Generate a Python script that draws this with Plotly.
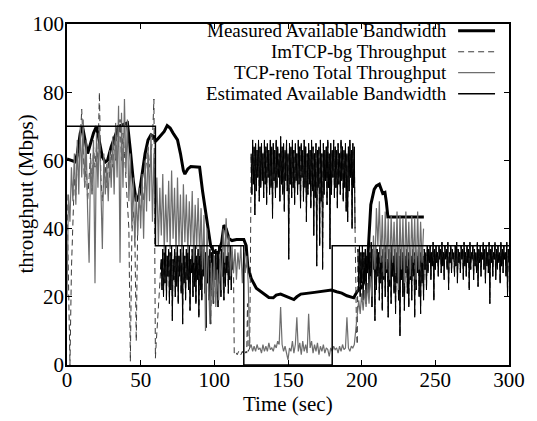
import numpy as np
import plotly.graph_objects as go

# ---------------- data ----------------
# Measured Available Bandwidth (thick line)
meas_t = [0, 3, 5.5, 7, 9, 10.5, 12, 14, 16, 18,
          20, 22, 24, 26, 27.5, 30, 33, 35, 38, 41,
          43, 45, 47, 49, 51, 53, 55, 57, 59, 60,
          62, 64, 66, 68, 70, 72, 75, 77, 79, 80,
          82, 84, 88, 90, 92, 94, 96, 97.5, 100, 103,
          105, 106.5, 108, 110, 112, 115, 120, 121.6, 122.7, 125,
          128.5, 134.3, 137, 140, 142, 145, 149.4, 152, 154, 156,
          158.7, 168, 175, 179.5, 183, 186.5, 190, 194.6, 197, 200.4,
          202, 204, 206.2, 208.5, 210, 212, 214.3, 215.8, 216.7, 217.8,
          242.2]
meas_v = [60.4, 60, 59.6, 62, 68, 70, 66, 62, 65, 68,
          70, 66, 61, 59.5, 60, 64, 68, 70, 70.5, 71,
          63, 54, 48, 50, 56, 62, 66, 67.5, 67, 65.5,
          66.5, 67.5, 68.5, 70.2, 69.5, 68, 66, 62, 57, 56,
          57.5, 58.2, 58.2, 58, 51, 45, 38, 35, 33, 33,
          36, 41, 40, 37, 36.5, 36.8, 36.8, 35, 29, 25.4,
          22.5, 20.6, 19.8, 19.7, 20.5, 20.8, 20, 19.5, 19.2, 20,
          20.8, 21.3, 21.7, 22, 21.5, 21.1, 20.3, 19.7, 21.6, 23,
          25, 30, 47, 51.5, 52.5, 53, 50.3, 50.6, 48, 43.4,
          43.4]

# ImTCP-bg throughput: 1 s samples from t=0 to 59
imtcp_early = [50, 22, 0, 28, 45, 55, 50, 60, 62, 66,
               75, 60, 52, 60, 48, 55, 62, 50, 64, 58,
               64, 60, 80, 55, 48, 54, 58, 52, 60, 55,
               62, 58, 66, 60, 70, 64, 72, 60, 68, 62,
               55, 48, 40, 1, 38, 45, 40, 7, 42, 48,
               45, 52, 48, 56, 60, 64, 58, 62, 66, 78]
# ImTCP-bg throughput: 0.5 s samples from t=60 to 300
imtcp_main = [2, 6, 10, 14, 18, 22, 25, 28, 31, 22,
              34, 20, 33, 24, 35, 19, 32, 26, 34, 18,
              33, 22, 35, 13, 31, 25, 34, 20, 33, 23,
              35, 18, 32, 26, 34, 21, 33, 12, 35, 24,
              32, 19, 34, 25, 33, 22, 35, 16, 31, 27,
              34, 20, 33, 23, 35, 18, 32, 25, 34, 14,
              33, 22, 35, 19, 31, 26, 34, 21, 33, 11,
              35, 24, 32, 19, 34, 12, 33, 22, 35, 18,
              32, 25, 34, 21, 33, 17, 35, 24, 31, 20,
              34, 26, 33, 19, 35, 23, 32, 27, 34, 21,
              33, 25, 35, 22, 32, 28, 30, 3.5, 3.5, 4,
              3.5, 3, 3.5, 4, 3.5, 3.5, 3, 3.5, 4, 3.5,
              3.5, 3, 3.5, 4, 3.5, 18, 4, 4.5, 5, 30,
              62, 50, 66, 53, 64, 44, 65, 51, 63, 55,
              66, 48, 64, 52, 65, 54, 62, 49, 66, 53,
              64, 47, 65, 55, 63, 50, 66, 52, 64, 43,
              65, 54, 63, 49, 66, 52, 64, 55, 62, 48,
              67, 53, 64, 50, 65, 45, 63, 54, 66, 51,
              62, 31, 65, 53, 64, 49, 66, 52, 63, 47,
              65, 54, 62, 50, 66, 53, 64, 46, 65, 55,
              63, 48, 66, 52, 64, 42, 62, 50, 65, 53,
              63, 46, 66, 51, 64, 38, 62, 49, 65, 29,
              63, 52, 64, 35, 66, 48, 62, 28, 65, 50,
              63, 54, 64, 47, 66, 52, 62, 34, 65, 50,
              63, 55, 66, 49, 64, 52, 63, 46, 65, 53,
              62, 50, 66, 54, 64, 48, 63, 52, 65, 45,
              62, 42, 64, 51, 66, 55, 63, 40, 65, 52,
              64, 40, 20, 10, 6, 34, 22, 35, 20, 33,
              24, 35, 19, 33, 26, 34, 18, 32, 27, 35,
              21, 33, 25, 36, 17, 34, 28, 33, 13, 35,
              22, 34, 26, 33, 19, 35, 24, 32, 16, 34,
              25, 33, 20, 35, 27, 31, 14, 34, 23, 33,
              18, 35, 26, 32, 21, 34, 15, 33, 24, 35,
              19, 32, 8.5, 34, 25, 33, 20, 35, 16, 32,
              27, 34, 21, 33, 17, 35, 25, 32, 19, 34,
              26, 33, 14, 35, 22, 32, 27, 34, 20, 33,
              15, 35, 24, 32, 19, 34, 28, 33, 22, 35,
              27, 34, 30, 35, 25, 33, 29, 36, 19, 34,
              28, 35, 30, 33, 26, 35, 31, 34, 27, 36,
              29, 33, 25, 35, 31, 34, 28, 36, 22, 33,
              30, 35, 27, 34, 31, 33, 26, 35, 29, 36,
              24, 34, 30, 33, 27, 35, 31, 34, 25, 36,
              29, 33, 26, 35, 30, 34, 22, 36, 28, 33,
              31, 35, 25, 34, 29, 33, 27, 36, 23, 34,
              30, 35, 26, 33, 31, 36, 28, 34, 24, 35,
              29, 33, 27, 36, 18, 34, 30, 35, 26, 33,
              31, 36, 25, 34, 28, 35, 30, 33, 24, 36,
              29, 34, 27, 35, 31, 33, 26, 36, 20, 34,
              30]

# TCP-reno total throughput: 1 s samples from t=0 to 242
reno = [20, 50, 42, 58, 48, 62, 47, 66, 50, 70,
        55, 72, 52, 66, 45, 30, 60, 50, 66, 24,
        68, 52, 70, 48, 34, 62, 50, 59, 48, 63,
        52, 67, 50, 71, 55, 76, 30, 74, 52, 78,
        56, 72, 48, 62, 40, 55, 35, 50, 38, 52,
        40, 56, 37, 60, 45, 64, 48, 68, 42, 62,
        40, 55, 35, 52, 38, 56, 33, 50, 36, 54,
        34, 57, 37, 52, 32, 55, 35, 50, 30, 53,
        36, 50, 33, 48, 35, 51, 30, 47, 34, 49,
        32, 46, 28, 44, 10, 40, 22, 12, 30, 18,
        32, 17, 28, 19, 33, 22, 40, 30, 43, 32,
        38, 26, 35, 27, 34, 25, 33, 28, 35, 24,
        33, 27, 32, 24, 5, 6, 4, 5.5, 4, 6,
        4.5, 5, 3.5, 6, 4, 5.5, 4, 6.5, 4.5, 5,
        4, 6, 5, 7, 6, 17, 6, 4, 5.5, 3,
        1.5, 5, 4, 7, 3.5, 6, 14, 4, 6.5, 3,
        7, 4, 6, 3.5, 15, 5, 7, 3.5, 6, 4,
        6.5, 3, 5.5, 4, 6, 3.5, 5, 4.5, 2.5, 5,
        4, 5.5, 4.5, 5, 3.5, 5.5, 4, 6, 4.5, 5,
        14, 5, 4, 5.5, 5, 6, 10, 16, 19, 15,
        21, 16, 22, 17, 24, 18, 26, 20, 38, 28,
        46, 35, 48, 30, 44, 26, 45, 28, 43, 25,
        44, 30, 42, 27, 45, 22, 44, 28, 43, 24,
        45, 29, 42, 26, 44, 30, 43, 25, 45, 28,
        42, 30, 40]

# Estimated available bandwidth (step)
est_t = [0, 60, 60, 120, 120, 180, 180, 300]
est_v = [70, 70, 35, 35, 0, 0, 35, 35]

x_ticks = [0, 50, 100, 150, 200, 250, 300]
y_ticks = [0, 20, 40, 60, 80, 100]

legend_names = ["Measured Available Bandwidth", "ImTCP-bg Throughput",
                "TCP-reno Total Throughput", "Estimated Available Bandwidth"]

# ---------------- build ----------------
imtcp_t = np.concatenate([0 + 1.0 * np.arange(len(imtcp_early)),
                          60 + 0.5 * np.arange(len(imtcp_main))])
imtcp_v = np.array(imtcp_early + imtcp_main, dtype=float)
reno_t = 1.0 * np.arange(len(reno))

# dense parts of the dashed curve render as solid ink (as in the original)
dense_windows = [(63.5, 113.0), (125.0, 195.5), (197.5, 300.0)]
mask = np.zeros(len(imtcp_t), dtype=bool)
for a, b in dense_windows:
    mask |= (imtcp_t >= a) & (imtcp_t <= b)
imtcp_dense = np.where(mask, imtcp_v, np.nan)

FONT = "Liberation Serif, Times New Roman, serif"
GRAY = "#6e6e6e"
DASHC = "#3a3a3a"
DASH = "6px,4px"

fig = go.Figure()
fig.add_trace(go.Scatter(x=meas_t, y=meas_v, mode="lines", name=legend_names[0],
                         line=dict(color="black", width=3), showlegend=False))
fig.add_trace(go.Scatter(x=imtcp_t, y=imtcp_v, mode="lines", name=legend_names[1],
                         line=dict(color=DASHC, width=1, dash=DASH), showlegend=False))
fig.add_trace(go.Scatter(x=imtcp_t, y=imtcp_dense, mode="lines", name=legend_names[1],
                         line=dict(color="black", width=1), connectgaps=False,
                         showlegend=False, hoverinfo="skip"))
fig.add_trace(go.Scatter(x=reno_t, y=reno, mode="lines", name=legend_names[2],
                         line=dict(color=GRAY, width=1.2), showlegend=False))
fig.add_trace(go.Scatter(x=est_t, y=est_v, mode="lines", name=legend_names[3],
                         line=dict(color="black", width=1.5), showlegend=False))

axis_common = dict(showline=True, linecolor="black", linewidth=1.5, mirror="ticks",
                   ticks="inside", ticklen=5, tickwidth=1, tickcolor="black",
                   showgrid=False, zeroline=False,
                   tickfont=dict(family=FONT, size=21, color="black"))
fig.update_xaxes(range=[0, 300], tickvals=x_ticks, ticklabelstandoff=-5, **axis_common)
fig.update_yaxes(range=[0, 100], tickvals=y_ticks, ticklabelstandoff=-3, **axis_common)

# manual legend (text right-aligned, sample to the right)
L, R, T, B = 67, 510, 15, 365
def px(xp):
    return (xp - L) / (R - L)
def py(yp):
    return (B - yp) / (B - T)

row_y = [22, 43.5, 65, 86.5]
styles = [dict(color="black", width=3), dict(color=DASHC, width=1, dash=DASH),
          dict(color=GRAY, width=1.2), dict(color="black", width=1.5)]
annotations = []
shapes = []
for name, yy, st in zip(legend_names, row_y, styles):
    annotations.append(dict(x=px(449), y=py(yy), xref="paper", yref="paper",
                            text=name, showarrow=False, xanchor="right", yanchor="middle",
                            borderpad=0,
                            font=dict(family=FONT, size=19, color="black")))
    shapes.append(dict(type="line", xref="paper", yref="paper",
                       x0=px(459), x1=px(496), y0=py(yy), y1=py(yy), line=st))

annotations.append(dict(x=0.5, y=py(405), xref="paper", yref="paper", text="Time (sec)",
                        showarrow=False, xanchor="center", yanchor="middle",
                        font=dict(family=FONT, size=21, color="black")))
annotations.append(dict(x=px(25), y=0.5, xref="paper", yref="paper", text="throughput (Mbps)",
                        showarrow=False, xanchor="center", yanchor="middle", textangle=-90,
                        font=dict(family=FONT, size=21, color="black")))

fig.update_layout(width=537, height=421,
                  margin=dict(l=L, r=537 - R, t=T, b=421 - B),
                  paper_bgcolor="white", plot_bgcolor="white",
                  showlegend=False, annotations=annotations, shapes=shapes)

fig.write_html("out.html")
